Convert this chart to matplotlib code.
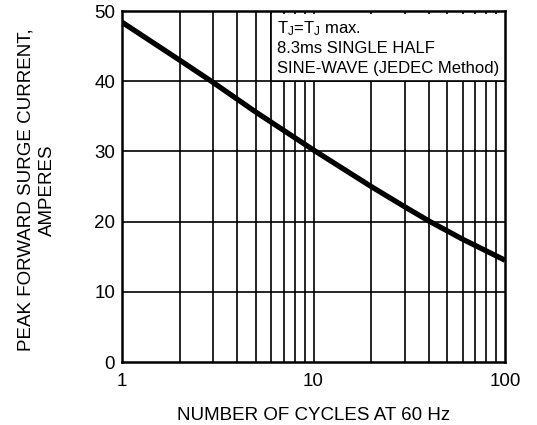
import numpy as np
import matplotlib
matplotlib.use('Agg')
import matplotlib.pyplot as plt
from matplotlib.patches import Rectangle

# curve
cycles = [1, 2, 3, 5, 10, 20, 30, 40, 60, 100]
surge_amps = [48.4, 43.0, 39.8, 35.6, 30.2, 25.0, 22.1, 20.1, 17.5, 14.5]

x_ticks = [1, 10, 100]
x_tick_labels = ['1', '10', '100']
y_ticks = [0, 10, 20, 30, 40, 50]

note_lines = [r'T$_\mathrm{J}$=T$_\mathrm{J}$ max.',
              '8.3ms SINGLE HALF',
              'SINE-WAVE (JEDEC Method)']


def main():
	plt.rcParams['font.family'] = ['Liberation Sans', 'DejaVu Sans']
	plt.rcParams['mathtext.fontset'] = 'custom'
	plt.rcParams['mathtext.rm'] = 'Liberation Sans'
	plt.rcParams['mathtext.it'] = 'Liberation Sans'

	fig = plt.figure(figsize=(5.37, 4.25), dpi=100)
	ax = fig.add_axes([0.2272, 0.1482, 0.7132, 0.8259])

	ax.set_xscale('log')
	ax.set_xlim(1, 100)
	ax.set_ylim(0, 50)

	# grid: every integer in each decade
	grid_x = [m * d for d in (1, 10) for m in range(1, 10)] + [100]
	for gx in grid_x[1:-1]:
		ax.axvline(gx, color='black', lw=1.2, zorder=1)
	for gy in y_ticks[1:-1]:
		ax.axhline(gy, color='black', lw=1.2, zorder=1)

	# white note box, hides the grid under the text
	ax.add_patch(Rectangle((6, 40), 94, 9.6, facecolor='white',
		edgecolor='none', zorder=2))
	ax.plot([6, 6], [40, 50], color='black', lw=1.2, zorder=2)
	ax.plot([6, 100], [40, 40], color='black', lw=1.2, zorder=2)

	ax.plot(cycles, surge_amps, color='black', lw=3.8, zorder=3,
		solid_capstyle='butt')

	for i, line in enumerate(note_lines):
		fig.text(277 / 537, 1 - (33 + 20 * i) / 425, line, fontsize=12,
			va='baseline', ha='left')

	ax.set_xticks(x_ticks)
	ax.set_xticklabels(x_tick_labels)
	ax.xaxis.set_minor_locator(matplotlib.ticker.NullLocator())
	ax.set_yticks(y_ticks)
	ax.tick_params(length=0, labelsize=13.5, pad=5)
	ax.tick_params(axis='x', pad=8)

	for s in ax.spines.values():
		s.set_linewidth(1.8)
		s.set_zorder(4)

	ax.set_xlabel('NUMBER OF CYCLES AT 60 Hz', fontsize=13.5, labelpad=12)
	fig.text(37 / 537, 1 - 190 / 425, 'PEAK FORWARD SURGE CURRENT,\nAMPERES',
		rotation=90, ha='center', va='center', fontsize=13.5, linespacing=1.35)

	plt.savefig('out.png', dpi=100)


if __name__ == "__main__":
	main()
